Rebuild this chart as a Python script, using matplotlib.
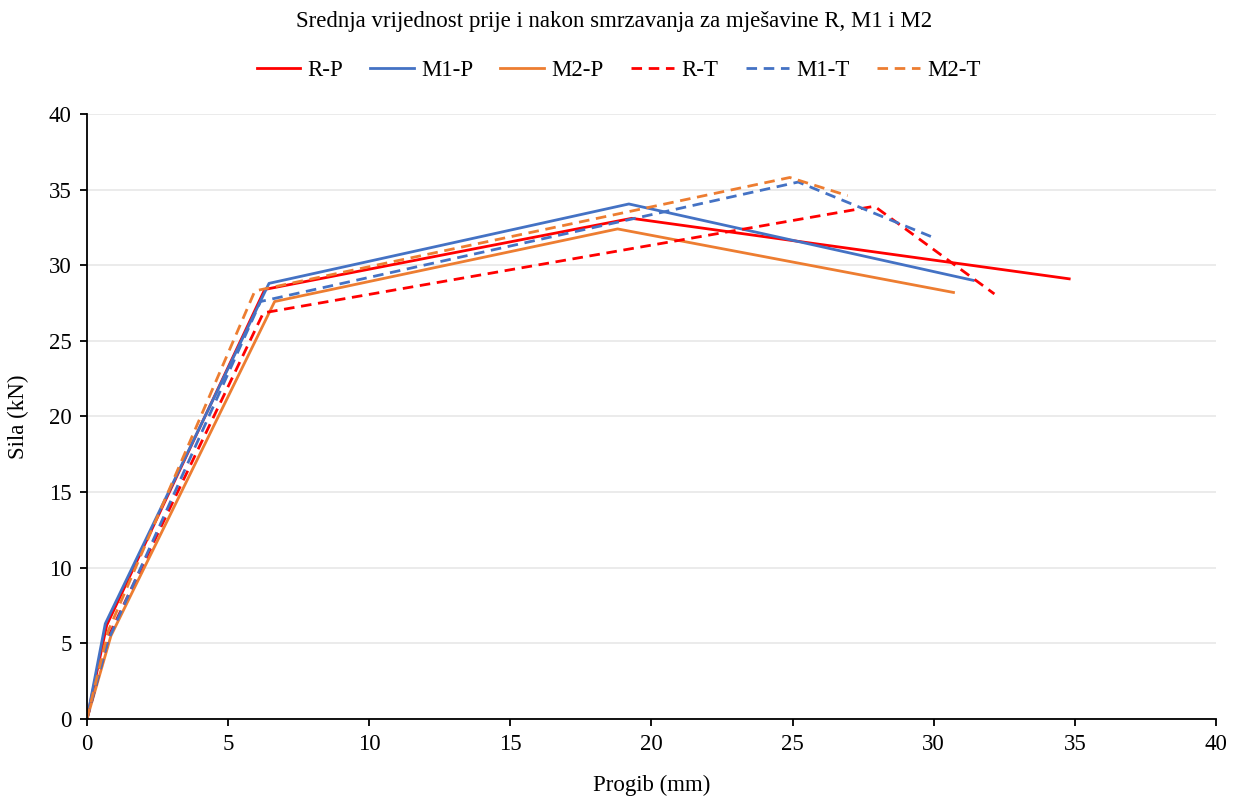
import matplotlib
matplotlib.use("Agg")
import matplotlib.pyplot as plt

plt.rcParams['font.family'] = ['Liberation Serif', 'DejaVu Serif']

labels = ["R-P", "M1-P", "M2-P", "R-T", "M1-T", "M2-T"]
rp_x = [0, 0.7, 6.3, 19.3, 34.8]
rp_y = [0, 6.2, 28.4, 33.1, 29.1]
m1p_x = [0, 0.65, 6.45, 19.2, 31.4]
m1p_y = [0, 6.3, 28.8, 34.05, 29.0]
m2p_x = [0, 0.85, 6.65, 18.8, 30.7]
m2p_y = [0, 5.5, 27.6, 32.4, 28.2]
rt_x = [0, 0.8, 6.25, 27.9, 32.15]
rt_y = [0, 5.6, 26.85, 33.9, 28.1]
m1t_x = [0, 0.75, 6.15, 25.2, 29.9]
m1t_y = [0, 5.2, 27.6, 35.5, 31.9]
m2t_x = [0, 0.75, 5.95, 24.9, 26.95]
m2t_y = [0, 5.8, 28.3, 35.8, 34.6]

series = [(rp_x, rp_y), (m1p_x, m1p_y), (m2p_x, m2p_y),
          (rt_x, rt_y), (m1t_x, m1t_y), (m2t_x, m2t_y)]
colors = ["#FF0000", "#4472C4", "#ED7D31", "#FF0000", "#4472C4", "#ED7D31"]
styles = ["-", "-", "-", (0, (3.8, 2.4)), (0, (3.8, 2.4)), (0, (3.8, 2.4))]

fig = plt.figure(figsize=(12.35, 7.97), dpi=100)
ax = fig.add_axes([0.0704, 0.0979, 0.9142, 0.7591])

for (xs, ys), c, ls, lab in zip(series, colors, styles, labels):
    ax.plot(xs, ys, color=c, linestyle=ls, linewidth=2.0, label=lab)

ax.set_xlim(0, 40)
ax.set_ylim(0, 40)
ax.set_xticks(range(0, 41, 5))
ax.set_yticks(range(0, 41, 5))
ax.grid(axis='y', color='#E8E8E8', linewidth=1.2)
ax.set_axisbelow(True)
for s in ['top', 'right']:
    ax.spines[s].set_visible(False)
for s in ['left', 'bottom']:
    ax.spines[s].set_linewidth(1.3)
ax.tick_params(axis='both', direction='out', length=5, width=1.3, labelsize=16.5, colors='black', pad=6)
ax.set_xlabel("Progib (mm)", fontsize=16.5, labelpad=14)
ax.set_ylabel("Sila (kN)", fontsize=16.5, labelpad=14)

fig.text(0.497, 0.973, "Srednja vrijednost prije i nakon smrzavanja za mješavine R, M1 i M2",
         ha='center', va='center', fontsize=16.5)
fig.legend(loc='center', bbox_to_anchor=(0.501, 0.912), ncol=6, frameon=False,
           fontsize=16.5, handlelength=1.9, columnspacing=1.2, handletextpad=0.3)

fig.savefig("out.png", dpi=100)
